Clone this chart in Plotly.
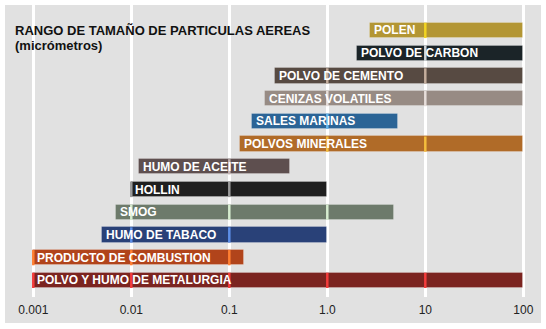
import math
import plotly.graph_objects as go

# Airborne particle size ranges, micrometres (top row first)
categories = [
    "POLEN", "POLVO DE CARBON", "POLVO DE CEMENTO", "CENIZAS VOLATILES",
    "SALES MARINAS", "POLVOS MINERALES", "HUMO DE ACEITE", "HOLLIN",
    "SMOG", "HUMO DE TABACO", "PRODUCTO DE COMBUSTION",
    "POLVO Y HUMO DE METALURGIA",
]
size_min = [2.7, 2.0, 0.29, 0.23, 0.17, 0.13, 0.012, 0.01, 0.007, 0.005, 0.001, 0.001]
size_max = [100, 100, 100, 100, 5.3, 100, 0.42, 1.0, 4.8, 1.0, 0.14, 100]

tick_vals = [0.001, 0.01, 0.1, 1.0, 10, 100]
tick_text = ["0.001", "0.01", "0.1", "1.0", "10", "100"]

bar_colors = [
    "#b39634", "#1b2428", "#574a42", "#978b84", "#2b6496", "#b06b28",
    "#5e4f4f", "#1f1f1f", "#6d7a6b", "#294178", "#b1441b", "#7b2420",
]
# lighter tone used where a white grid line crosses each bar
grid_tints = [
    "#f2d422", "#d0d6d8", "#c4ad9c", "#e6deda", "#66b6ee", "#f4bd3c",
    "#c4b4b4", "#9a9a9a", "#d6eccf", "#5d8fe8", "#ff8032", "#f43c3c",
]

FONT = "Liberation Sans, Arial, sans-serif"
PANEL = "#e1e1e1"

n = len(categories)
ypos = [n - 1 - i for i in range(n)]
BAR_W = 0.67

fig = go.Figure()

fig.add_trace(go.Bar(
    orientation="h",
    y=ypos,
    base=size_min,
    x=[hi - lo for lo, hi in zip(size_min, size_max)],
    width=BAR_W,
    marker=dict(color=bar_colors, line=dict(color="rgba(255,255,255,0.22)", width=1)),
    hoverinfo="skip",
    showlegend=False,
))

# tinted grid segments over the bars
for i in range(n):
    for t in tick_vals:
        if size_min[i] <= t < size_max[i]:
            fig.add_trace(go.Scatter(
                x=[t, t],
                y=[ypos[i] - BAR_W / 2, ypos[i] + BAR_W / 2],
                mode="lines",
                line=dict(color=grid_tints[i], width=2.5),
                hoverinfo="skip",
                showlegend=False,
            ))

annotations = []
for i in range(n):
    annotations.append(dict(
        x=math.log10(size_min[i]), y=ypos[i], xref="x", yref="y",
        text=f"<b>{categories[i]}</b>", showarrow=False,
        xanchor="left", yanchor="middle", xshift=2, yshift=0,
        font=dict(family=FONT, size=12, color="#ffffff"),
    ))

L, R, T, B = 8, 5, 5, 32
W, H = 546, 329
pw, ph = W - L - R, H - T - B

def px_x(p):
    return (p - L) / pw

def px_y(p):
    return (H - B - p) / ph

annotations.append(dict(
    x=px_x(13), y=px_y(30), xref="paper", yref="paper",
    text="<b>RANGO DE TAMAÑO DE PARTICULAS AEREAS</b>", showarrow=False,
    xanchor="left", yanchor="middle",
    font=dict(family=FONT, size=13, color="#111111"),
))
annotations.append(dict(
    x=px_x(13), y=px_y(45), xref="paper", yref="paper",
    text="<b>(micrómetros)</b>", showarrow=False,
    xanchor="left", yanchor="middle",
    font=dict(family=FONT, size=13, color="#111111"),
))

x_lo = -3 - (33.3 - L) / 98.0
x_hi = 2 + (W - R - 523.3) / 98.0

fig.update_layout(
    width=W, height=H,
    margin=dict(l=L, r=R, t=T, b=B, pad=0),
    paper_bgcolor="#ffffff",
    plot_bgcolor=PANEL,
    annotations=annotations,
    shapes=[dict(
        type="rect", xref="paper", yref="paper", layer="below",
        x0=px_x(5), x1=px_x(541), y0=px_y(323), y1=px_y(5),
        fillcolor=PANEL, line=dict(width=0),
    )],
    xaxis=dict(
        type="log", range=[x_lo, x_hi],
        tickvals=tick_vals, ticktext=tick_text,
        showgrid=True, gridcolor="#ffffff", gridwidth=2.5,
        zeroline=False, showline=False,
        ticks="outside", ticklen=2, tickcolor="rgba(0,0,0,0)",
        tickfont=dict(family=FONT, size=12, color="#222222"),
        fixedrange=True,
    ),
    yaxis=dict(
        range=[-0.73, n - 1 + 1.12],
        showgrid=False, zeroline=False, showline=False,
        showticklabels=False, ticks="",
        fixedrange=True,
    ),
    bargap=0,
)

fig.write_html("out.html", config={"displayModeBar": False})
